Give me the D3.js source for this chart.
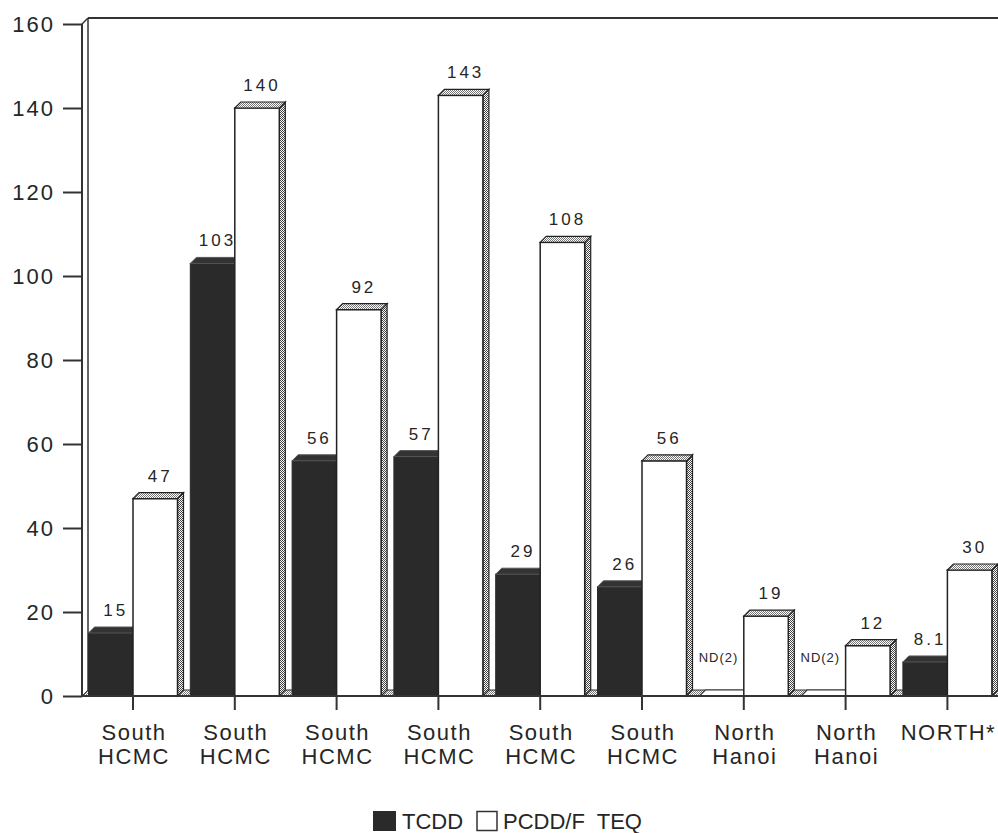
<!DOCTYPE html>
<html>
<head>
<meta charset="utf-8">
<script src="https://cdn.jsdelivr.net/npm/d3@7"></script>
<style>
  html, body { margin: 0; padding: 0; background: #fff; }
  svg { display: block; }
  text { font-family: "Liberation Sans", Arial, Helvetica, sans-serif; fill: #262626; }
</style>
</head>
<body>
<svg id="chart" width="998" height="833"></svg>
<script>
// ---- data ----
const categories = [
  ["South", "HCMC"], ["South", "HCMC"], ["South", "HCMC"], ["South", "HCMC"],
  ["South", "HCMC"], ["South", "HCMC"], ["North", "Hanoi"], ["North", "Hanoi"], ["NORTH*"]
];
const tcddValues = [15, 103, 56, 57, 29, 26, 0, 0, 8.1];
const tcddLabels = ["15", "103", "56", "57", "29", "26", "ND(2)", "ND(2)", "8.1"];
const teqValues = [47, 140, 92, 143, 108, 56, 19, 12, 30];
const teqLabels = ["47", "140", "92", "143", "108", "56", "19", "12", "30"];
const yTicks = [0, 20, 40, 60, 80, 100, 120, 140, 160];
const seriesNames = ["TCDD", "PCDD/F  TEQ"];

// ---- layout ----
const svg = d3.select("#chart");
const depth = 6;
const x0 = 82, x1 = 998.2, yBase = 696, yTop = 24;
const ink = "#2a2a2a";

const x = d3.scaleBand().domain(d3.range(categories.length)).range([x0, x1]).paddingInner(0).paddingOuter(0);
const xs = d3.scaleBand().domain(["tcdd", "teq"]).range([6.5, 95.5]);
const y = d3.scaleLinear().domain([0, 160]).range([yBase, yTop]);

// patterns
const defs = svg.append("defs");
function pat(id, dark) {
  const p = defs.append("pattern").attr("id", id).attr("width", 2).attr("height", 2)
    .attr("patternUnits", "userSpaceOnUse");
  p.append("rect").attr("width", 2).attr("height", 2).attr("fill", "#fff");
  p.append("rect").attr("x", 0).attr("y", 0).attr("width", 1).attr("height", 1).attr("fill", dark);
  p.append("rect").attr("x", 1).attr("y", 1).attr("width", 1).attr("height", 1).attr("fill", dark);
}
pat("hatchTop", "#777");
pat("hatchSide", "#444");

// back wall & top border
svg.append("line").attr("x1", x0 + depth).attr("x2", x0 + depth).attr("y1", yTop - depth).attr("y2", yBase - depth)
  .attr("stroke", "#333").attr("stroke-width", 1.5);
svg.append("line").attr("x1", x0 + depth).attr("x2", 998).attr("y1", yTop - depth).attr("y2", yTop - depth)
  .attr("stroke", "#333").attr("stroke-width", 2.2);
svg.append("line").attr("x1", x0).attr("x2", x0 + depth).attr("y1", yTop).attr("y2", yTop - depth)
  .attr("stroke", "#333").attr("stroke-width", 1.5);

// floor
svg.append("path")
  .attr("d", `M${x0},${yBase}L${x0 + depth},${yBase - depth}L${x1 + depth},${yBase - depth}L${x1},${yBase}Z`)
  .attr("fill", "url(#hatchTop)").attr("stroke", "#333").attr("stroke-width", 1);

// bars
function topFace(xa, xb, yy) {
  return `M${xa},${yy}L${xa + depth},${yy - depth}L${xb + depth},${yy - depth}L${xb},${yy}Z`;
}
function sideFace(xb, yy) {
  return `M${xb},${yy}L${xb + depth},${yy - depth}L${xb + depth},${yBase - depth}L${xb},${yBase}Z`;
}

const groups = svg.append("g").selectAll("g").data(categories).join("g");

groups.each(function(d, i) {
  const g = d3.select(this);
  const b = x(i);
  // TCDD dark bar
  const dx0 = b + xs("tcdd"), dx1 = dx0 + xs.bandwidth();
  const dv = tcddValues[i];
  const dy = y(dv);
  if (dv > 0) {
    g.append("path").attr("d", sideFace(dx1, dy)).attr("fill", ink).attr("stroke", ink);
    g.append("rect").attr("x", dx0).attr("y", dy).attr("width", dx1 - dx0).attr("height", yBase - dy)
      .attr("fill", ink).attr("stroke", ink).attr("stroke-width", 1);
    g.append("path").attr("d", topFace(dx0, dx1, dy)).attr("fill", "#333").attr("stroke", "#555").attr("stroke-width", 1);
  } else {
    g.append("path").attr("d", topFace(dx0, dx1, yBase)).attr("fill", "#fff").attr("stroke", "#333").attr("stroke-width", 1.2);
  }
  // PCDD/F TEQ white bar
  const wx0 = b + xs("teq"), wx1 = wx0 + xs.bandwidth();
  const wy = y(teqValues[i]);
  g.append("path").attr("d", sideFace(wx1, wy)).attr("fill", "url(#hatchSide)").attr("stroke", "#222").attr("stroke-width", 1.2);
  g.append("rect").attr("x", wx0).attr("y", wy).attr("width", wx1 - wx0).attr("height", yBase - wy)
    .attr("fill", "#fff").attr("stroke", "#222").attr("stroke-width", 1.5);
  g.append("path").attr("d", topFace(wx0, wx1, wy)).attr("fill", "url(#hatchTop)").attr("stroke", "#222").attr("stroke-width", 1.2);

  // labels
  const isND = dv === 0;
  g.append("text")
    .attr("x", (dx0 + dx1) / 2 + (isND ? -3 : 5))
    .attr("y", isND ? 662 : dy - depth - 11)
    .attr("text-anchor", "middle")
    .style("font-size", isND ? "13px" : "17px")
    .style("letter-spacing", isND ? "1px" : "3px")
    .text(tcddLabels[i]);
  g.append("text")
    .attr("x", (wx0 + wx1) / 2 + 5)
    .attr("y", wy - depth - 11)
    .attr("text-anchor", "middle")
    .style("font-size", "17px")
    .style("letter-spacing", "3px")
    .text(teqLabels[i]);
});

// front y axis
svg.append("line").attr("x1", x0).attr("x2", x0).attr("y1", yTop).attr("y2", yBase)
  .attr("stroke", "#333").attr("stroke-width", 2);
// baseline
svg.append("line").attr("x1", x0).attr("x2", 998).attr("y1", yBase).attr("y2", yBase)
  .attr("stroke", "#333").attr("stroke-width", 2);

// y ticks via d3 axis
const yAxis = d3.axisLeft(y).tickValues(yTicks).tickSize(19).tickPadding(10).tickFormat(d3.format("d"));
const yg = svg.append("g").attr("transform", `translate(${x0},0)`).call(yAxis);
yg.select(".domain").remove();
yg.selectAll(".tick line").attr("stroke", "#333").attr("stroke-width", 2);
yg.selectAll(".tick text")
  .style("font-size", "22px").style("letter-spacing", "2px")
  .attr("fill", "#262626").attr("font-family", null).attr("dx", "2px");

// x ticks
const xg = svg.append("g").attr("transform", `translate(0,${yBase})`);
xg.selectAll("line").data(categories).join("line")
  .attr("x1", (d, i) => x(i) + xs("teq")).attr("x2", (d, i) => x(i) + xs("teq"))
  .attr("y1", 0).attr("y2", 14).attr("stroke", "#333").attr("stroke-width", 2);
xg.selectAll("text").data(categories).join("text")
  .attr("x", (d, i) => x(i) + xs("teq") + 1)
  .attr("y", 44)
  .attr("text-anchor", "middle")
  .style("font-size", "22px")
  .style("letter-spacing", "1.5px")
  .each(function(d) {
    const t = d3.select(this);
    d.forEach((line, k) => {
      t.append("tspan").attr("x", t.attr("x")).attr("dy", k === 0 ? 0 : 24).text(line);
    });
  });

// legend
const lg = svg.append("g");
lg.append("rect").attr("x", 373).attr("y", 811).attr("width", 23).attr("height", 20).attr("fill", ink);
lg.append("text").attr("x", 402).attr("y", 829).style("font-size", "22px").text(seriesNames[0]);
lg.append("rect").attr("x", 477).attr("y", 811.5).attr("width", 20).attr("height", 19)
  .attr("fill", "#fff").attr("stroke", "#333").attr("stroke-width", 1.5);
lg.append("text").attr("x", 503).attr("y", 829).style("font-size", "22px").style("white-space", "pre")
  .attr("xml:space", "preserve").text(seriesNames[1]);
</script>
</body>
</html>
